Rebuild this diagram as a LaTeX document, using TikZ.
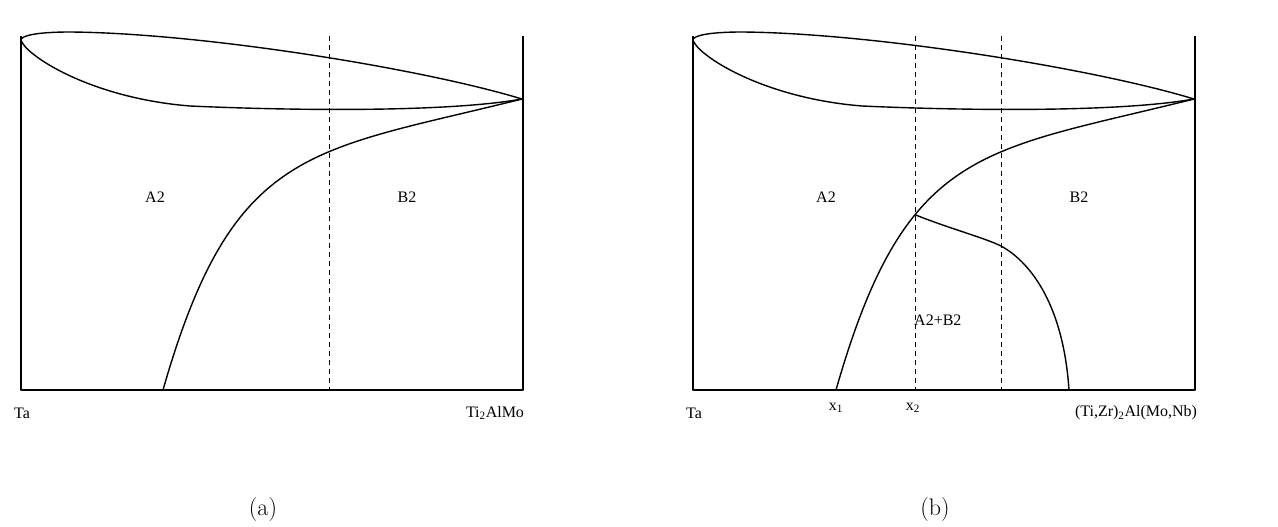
\documentclass[tikz,border=0pt]{standalone}
\usepackage{fontspec}
\usetikzlibrary{intersections}
\newfontfamily\tnr{Liberation Serif}
\begin{document}
\begin{tikzpicture}[x=1pt,y=-1pt,
  lbl/.style={font=\tnr\fontsize{16}{19}\selectfont, inner sep=0pt},
  subcap/.style={font=\fontsize{24}{28}\selectfont, inner sep=0pt},
  curve/.style={line width=1.4pt, line join=round},
  guide/.style={line width=0.9pt, dash pattern=on 5pt off 4pt}]
\useasboundingbox (0,0) rectangle (1278,527);

% ---------- panel (a) ----------
\begin{scope}
\draw[curve] (21,36) -- (21,390) -- (523,390) -- (523,36);
\draw[guide] (329,36) -- (329,390);
\draw[curve] (522,99) .. controls (420,68) and (200,33) .. (70,32)
   .. controls (35,32) and (21,36) .. (21,40)
   .. controls (25,55) and (90,98) .. (190,106)
   .. controls (300,111) and (450,112) .. (522,99);
\draw[curve] (163,390) .. controls (233,145) and (310,152) .. (522,99);
\node[lbl] (a2a) at (155,197) {A2};
\node[lbl] (b2a) at (407,197) {B2};
\node[lbl] (taa) at (22,413) {Ta};
\node[lbl] (tia) at (495,413) {Ti\textsubscript{2}AlMo};
\node[subcap] (capa) at (263,510) {(a)};
\end{scope}

% ---------- panel (b) ----------
\begin{scope}[xshift=672pt]
\draw[curve] (21,36) -- (21,390) -- (523,390) -- (523,36);
\draw[guide, name path=dashx] (243,36) -- (243,390);
\draw[guide] (329,36) -- (329,390);
\draw[curve] (522,99) .. controls (420,68) and (200,33) .. (70,32)
   .. controls (35,32) and (21,36) .. (21,40)
   .. controls (25,55) and (90,98) .. (190,106)
   .. controls (300,111) and (450,112) .. (522,99);
\draw[curve, name path=solv] (164,390) .. controls (234,145) and (310,152) .. (522,99);
\path[name intersections={of=solv and dashx, by=ip}];
\draw[curve] (ip) .. controls ([shift={(35,14)}]ip) and (313,238) .. (329,246)
   .. controls (355,260) and (391,300) .. (397,390);
\node[lbl] (a2b) at (154,197) {A2};
\node[lbl] (b2b) at (407,197) {B2};
\node[lbl, anchor=west] (ab) at (242,320) {A2+B2};
\node[lbl] (tab) at (22,413) {Ta};
\node[lbl] (x1) at (164,408) {x\textsubscript{1}};
\node[lbl] (x2) at (241,408) {x\textsubscript{2}};
\node[lbl] (tib) at (464,413) {(Ti,Zr)\textsubscript{2}Al(Mo,Nb)};
\node[subcap] (capb) at (263,510) {(b)};
\end{scope}
\end{tikzpicture}
\end{document}
